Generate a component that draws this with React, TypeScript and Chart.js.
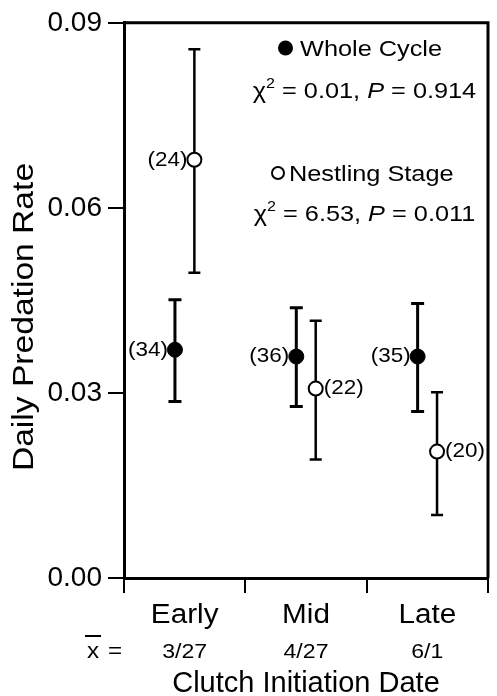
import { useEffect, useRef } from 'react';
import { Chart, registerables } from 'chart.js';

Chart.register(...registerables);

// ---- data ----
const categories = ['Early', 'Mid', 'Late'];
const meanDates = ['3/27', '4/27', '6/1'];
const wholeRate = [0.037, 0.0359, 0.0359];
const wholeUpper = [0.0451, 0.0438, 0.0445];
const wholeLower = [0.0286, 0.0278, 0.027];
const wholeN = [34, 36, 35];
const nestRate = [0.0678, 0.0307, 0.0205];
const nestUpper = [0.0857, 0.0417, 0.0301];
const nestLower = [0.0495, 0.0192, 0.0102];
const nestN = [24, 22, 20];
const yTickValues = [0, 0.03, 0.06, 0.09];
const xBoundaries = [0, 1, 2, 3];
const wholeChi = '0.01';
const wholeP = '0.914';
const nestChi = '6.53';
const nestP = '0.011';

// ---- style constants ----
const FONT = "'Liberation Sans', Arial, Helvetica, sans-serif";
const OFFSET = 0.08;
const nestLabelSide = ['left', 'right', 'right'];

function drawText(
  ctx: CanvasRenderingContext2D,
  text: string,
  x: number,
  y: number,
  size: number,
  align: CanvasTextAlign,
  sx = 1,
  baseline: CanvasTextBaseline = 'alphabetic',
  style = ''
) {
  ctx.save();
  ctx.font = `${style}${size}px ${FONT}`;
  ctx.textAlign = align;
  ctx.textBaseline = baseline;
  ctx.fillStyle = '#000';
  ctx.translate(x, y);
  ctx.scale(sx, 1);
  ctx.fillText(text, 0, 0);
  ctx.restore();
}

function drawChiLine(ctx: CanvasRenderingContext2D, cx: number, baseY: number, chi: string, p: string, sx: number) {
  const segs = [
    { t: '\u03C7', size: 22, style: '', dy: 0 },
    { t: '2', size: 14, style: '', dy: -10 },
    { t: ' = ' + chi + ', ', size: 22, style: '', dy: 0 },
    { t: 'P', size: 22, style: 'italic ', dy: 0 },
    { t: ' = ' + p, size: 22, style: '', dy: 0 },
  ];
  ctx.save();
  let total = 0;
  const widths = segs.map((s) => {
    ctx.font = `${s.style}${s.size}px ${FONT}`;
    const w = ctx.measureText(s.t).width;
    total += w;
    return w;
  });
  ctx.restore();
  let x = cx - (total * sx) / 2;
  segs.forEach((s, i) => {
    drawText(ctx, s.t, x, baseY + s.dy, s.size, 'left', sx, 'alphabetic', s.style);
    x += widths[i] * sx;
  });
}

const customPlugin = {
  id: 'customDraw',
  beforeDatasetsDraw(chart: any) {
    const ctx: CanvasRenderingContext2D = chart.ctx;
    const xs = chart.scales.x;
    const ys = chart.scales.y;
    ctx.save();
    ctx.strokeStyle = '#000';
    const bars = (rate: number[], up: number[], lo: number[], off: number, lw: number, cap: number) => {
      rate.forEach((_, i) => {
        const px = xs.getPixelForValue(i + 0.5 + off);
        const pu = ys.getPixelForValue(up[i]);
        const pl = ys.getPixelForValue(lo[i]);
        ctx.lineWidth = lw;
        ctx.beginPath();
        ctx.moveTo(px, pu);
        ctx.lineTo(px, pl);
        ctx.moveTo(px - cap, pu);
        ctx.lineTo(px + cap, pu);
        ctx.moveTo(px - cap, pl);
        ctx.lineTo(px + cap, pl);
        ctx.stroke();
      });
    };
    bars(wholeRate, wholeUpper, wholeLower, -OFFSET, 3, 6.5);
    bars(nestRate, nestUpper, nestLower, OFFSET, 2.5, 6);
    ctx.restore();
  },
  afterDraw(chart: any) {
    const ctx: CanvasRenderingContext2D = chart.ctx;
    const xs = chart.scales.x;
    const ys = chart.scales.y;
    const area = chart.chartArea;
    ctx.save();
    ctx.strokeStyle = '#000';
    ctx.lineWidth = 3;
    ctx.beginPath();
    ctx.moveTo(area.left, area.top);
    ctx.lineTo(area.right, area.top);
    ctx.lineTo(area.right, area.bottom);
    ctx.stroke();
    ctx.restore();

    // sample size labels
    wholeN.forEach((n, i) => {
      const px = xs.getPixelForValue(i + 0.5 - OFFSET);
      const py = ys.getPixelForValue(wholeRate[i]);
      drawText(ctx, `(${n})`, px - 7, py, 21, 'right', 1.07, 'middle');
    });
    nestN.forEach((n, i) => {
      const px = xs.getPixelForValue(i + 0.5 + OFFSET);
      const py = ys.getPixelForValue(nestRate[i]);
      if (nestLabelSide[i] === 'left') drawText(ctx, `(${n})`, px - 7, py, 21, 'right', 1.07, 'middle');
      else drawText(ctx, `(${n})`, px + 8, py, 21, 'left', 1.07, 'middle');
    });

    // legend
    ctx.save();
    ctx.fillStyle = '#000';
    ctx.beginPath();
    ctx.arc(285.5, 48, 7.5, 0, Math.PI * 2);
    ctx.fill();
    ctx.strokeStyle = '#000';
    ctx.lineWidth = 2;
    ctx.fillStyle = '#fff';
    ctx.beginPath();
    ctx.arc(278, 173, 6, 0, Math.PI * 2);
    ctx.fill();
    ctx.stroke();
    ctx.restore();
    drawText(ctx, 'Whole Cycle', 300, 56, 22, 'left', 1.15);
    drawChiLine(ctx, 364.5, 98, wholeChi, wholeP, 1.15);
    drawText(ctx, 'Nestling Stage', 289, 181, 22, 'left', 1.15);
    drawChiLine(ctx, 364.5, 221, nestChi, nestP, 1.15);

    // category labels and mean dates
    categories.forEach((c, i) => {
      const px = xs.getPixelForValue(i + 0.5);
      drawText(ctx, c, px, 623, 27, 'center', 1.1);
      drawText(ctx, meanDates[i], px, 658, 21, 'center', 1.1);
    });
    // x-bar =
    drawText(ctx, 'x', 93, 658, 22, 'center', 1.1);
    ctx.save();
    ctx.strokeStyle = '#000';
    ctx.lineWidth = 2;
    ctx.beginPath();
    ctx.moveTo(85, 636);
    ctx.lineTo(101, 636);
    ctx.stroke();
    ctx.restore();
    drawText(ctx, '=', 115, 658, 22, 'center', 1.1);

    // axis titles
    drawText(ctx, 'Clutch Initiation Date', xs.getPixelForValue(1.5), 692, 29, 'center', 1.0);
    ctx.save();
    ctx.translate(33, 317);
    ctx.rotate(-Math.PI / 2);
    drawText(ctx, 'Daily Predation Rate', 0, 0, 30, 'center', 1.12);
    ctx.restore();
  },
};

export default function App() {
  const ref = useRef<HTMLCanvasElement>(null);
  useEffect(() => {
    if (!ref.current) return;
    const chart = new Chart(ref.current, {
      type: 'scatter',
      data: {
        datasets: [
          {
            label: 'Whole Cycle',
            data: wholeRate.map((v, i) => ({ x: i + 0.5 - OFFSET, y: v })),
            pointRadius: 7.5,
            pointBackgroundColor: '#000',
            pointBorderColor: '#000',
            pointBorderWidth: 1,
          },
          {
            label: 'Nestling Stage',
            data: nestRate.map((v, i) => ({ x: i + 0.5 + OFFSET, y: v })),
            pointRadius: 7,
            pointBackgroundColor: '#fff',
            pointBorderColor: '#000',
            pointBorderWidth: 2,
          },
        ],
      },
      options: {
        animation: false,
        responsive: true,
        maintainAspectRatio: false,
        layout: { padding: { left: 0, top: 22, right: 8, bottom: 0 } },
        plugins: { legend: { display: false }, tooltip: { enabled: false } },
        scales: {
          x: {
            type: 'linear',
            min: 0,
            max: 3,
            afterBuildTicks: (s: any) => {
              s.ticks = xBoundaries.map((v) => ({ value: v }));
            },
            afterFit: (s: any) => {
              s.height = 118;
            },
            ticks: { display: false },
            grid: { display: true, drawOnChartArea: false, drawTicks: true, tickLength: 15, lineWidth: 2, color: '#000' },
            border: { display: true, color: '#000', width: 3 },
          },
          y: {
            type: 'linear',
            min: 0,
            max: 0.09,
            afterBuildTicks: (s: any) => {
              s.ticks = yTickValues.map((v) => ({ value: v }));
            },
            afterFit: (s: any) => {
              s.width = 124;
            },
            ticks: {
              padding: 6,
              color: '#000',
              font: { family: FONT, size: 28 },
              callback: (v: any) => Number(v).toFixed(2),
            },
            grid: { display: true, drawOnChartArea: false, drawTicks: true, tickLength: 16, lineWidth: 2, color: '#000' },
            border: { display: true, color: '#000', width: 3 },
          },
        },
      },
      plugins: [customPlugin],
    });
    return () => chart.destroy();
  }, []);
  return (
    <div style={{ position: 'absolute', left: 0, top: 0, width: 497, height: 696, background: '#fff' }}>
      <canvas ref={ref} />
    </div>
  );
}
